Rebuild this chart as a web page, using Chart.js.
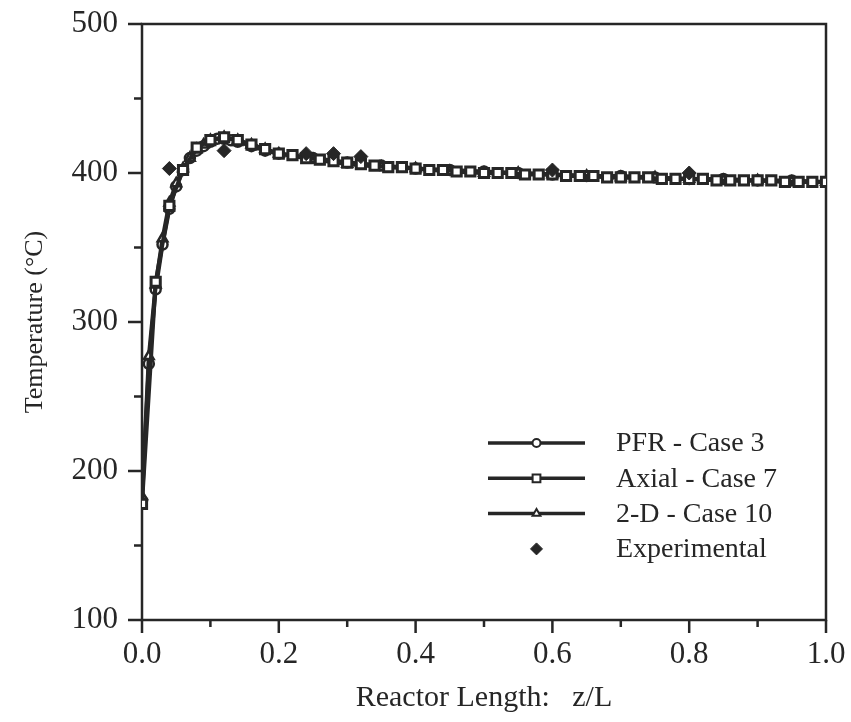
<!DOCTYPE html>
<html><head><meta charset="utf-8">
<script src="https://cdn.jsdelivr.net/npm/chart.js@4.4.1/dist/chart.umd.min.js"></script>
<style>html,body{margin:0;padding:0;background:#fff}</style>
</head><body>
<canvas id="c" width="851" height="722" style="width:851px;height:722px;display:block"></canvas>
<script>
// ---- data ----
const seriesNames = ["PFR - Case 3", "Axial - Case 7", "2-D - Case 10", "Experimental"];

const pfrZ = [0, 0.01, 0.02, 0.03, 0.04, 0.05, 0.06, 0.07, 0.08, 0.09, 0.10, 0.11, 0.12, 0.13, 0.14, 0.16, 0.18, 0.20, 0.25, 0.30, 0.35, 0.40, 0.45, 0.50, 0.55, 0.60, 0.65, 0.70, 0.75, 0.80, 0.85, 0.90, 0.95, 1.00];
const pfrT = [180, 272, 322, 352, 376, 391, 402, 410, 415, 418, 421, 423, 423, 422, 421, 418, 415, 413, 410, 407, 405, 403, 402, 401, 400, 399, 398, 398, 397, 396, 396, 395, 395, 394];

const axialZ = [0, 0.02, 0.04, 0.06, 0.08, 0.10, 0.12, 0.14, 0.16, 0.18, 0.20, 0.22, 0.24, 0.26, 0.28, 0.30, 0.32, 0.34, 0.36, 0.38, 0.40, 0.42, 0.44, 0.46, 0.48, 0.50, 0.52, 0.54, 0.56, 0.58, 0.60, 0.62, 0.64, 0.66, 0.68, 0.70, 0.72, 0.74, 0.76, 0.78, 0.80, 0.82, 0.84, 0.86, 0.88, 0.90, 0.92, 0.94, 0.96, 0.98, 1.00];
const axialT = [178, 327, 378, 402, 417, 422, 424, 422, 419, 416, 413, 412, 410, 409, 408, 407, 406, 405, 404, 404, 403, 402, 402, 401, 401, 400, 400, 400, 399, 399, 399, 398, 398, 398, 397, 397, 397, 397, 396, 396, 396, 396, 395, 395, 395, 395, 395, 394, 394, 394, 394];

const twoDZ = [0, 0.01, 0.02, 0.03, 0.04, 0.05, 0.06, 0.07, 0.08, 0.09, 0.10, 0.12, 0.14, 0.16, 0.18, 0.20, 0.25, 0.30, 0.35, 0.40, 0.45, 0.50, 0.55, 0.60, 0.65, 0.70, 0.75, 0.80, 0.85, 0.90, 0.95, 1.00];
const twoDT = [183, 277, 325, 356, 380, 393, 403, 410, 416, 419, 422, 424, 422, 419, 416, 413, 409, 406, 404, 403, 401, 400, 400, 399, 398, 397, 397, 396, 395, 395, 394, 394];

const expZ = [0.04, 0.12, 0.24, 0.28, 0.32, 0.60, 0.80];
const expT = [403, 415, 413, 413, 411, 402, 400];

const xTickLabels = ["0.0", "0.2", "0.4", "0.6", "0.8", "1.0"];
const yTickLabels = ["100", "200", "300", "400", "500"];

// ---- styling ----
const INK = '#262626';
const FONT = '"Liberation Serif", "Times New Roman", serif';
const pts = (zs, ts) => zs.map((z, i) => ({x: z, y: ts[i]}));

const lineDs = (label, zs, ts, style, r, bw) => ({
  label, data: pts(zs, ts), showLine: true,
  borderColor: INK, borderWidth: 4, tension: 0,
  pointStyle: style, pointRadius: r, pointBorderWidth: bw,
  pointBackgroundColor: '#ffffff', pointBorderColor: INK
});

const datasets = [
  Object.assign({
    label: seriesNames[3], data: pts(expZ, expT), showLine: false,
    pointStyle: 'rectRot', pointRadius: 7, pointBackgroundColor: INK,
    pointBorderColor: INK, pointBorderWidth: 1
  }, {order: 0}),
  Object.assign(lineDs(seriesNames[0], pfrZ, pfrT, 'circle', 5, 2.5), {order: 3}),
  Object.assign(lineDs(seriesNames[1], axialZ, axialT, 'rect', 6.5, 3), {order: 1}),
  Object.assign(lineDs(seriesNames[2], twoDZ, twoDT, 'triangle', 5.5, 2.5), {order: 2})
];

const framePlugin = {
  id: 'frame',
  beforeDatasetsDraw(chart) {
    const {ctx, chartArea: a, scales: {x, y}} = chart;
    ctx.save();
    ctx.strokeStyle = INK; ctx.lineWidth = 2.5;
    ctx.strokeRect(a.left, a.top, a.right - a.left, a.bottom - a.top);
    ctx.beginPath();
    for (let v = 100; v <= 500; v += 50) {
      const py = y.getPixelForValue(v);
      const len = (v % 100 === 0) ? 14 : 8;
      ctx.moveTo(a.left - len, py); ctx.lineTo(a.left, py);
    }
    for (let k = 0; k <= 10; k++) {
      const px = x.getPixelForValue(k / 10);
      const len = (k % 2 === 0) ? 13 : 7;
      ctx.moveTo(px, a.bottom); ctx.lineTo(px, a.bottom + len);
    }
    ctx.stroke();
    ctx.restore();
  }
};

const legendPlugin = {
  id: 'customLegend',
  afterDraw(chart) {
    const {ctx} = chart;
    const rows = [1, 2, 3, 0];
    const x0 = 488, x1 = 585, tx = 616, y0 = 443, dy = 35.3;
    ctx.save();
    rows.forEach((di, i) => {
      const ds = chart.data.datasets[di];
      const yy = y0 + i * dy;
      if (ds.showLine) {
        ctx.strokeStyle = INK; ctx.lineWidth = 3.5;
        ctx.beginPath(); ctx.moveTo(x0, yy); ctx.lineTo(x1, yy); ctx.stroke();
      }
      ctx.fillStyle = ds.pointBackgroundColor; ctx.strokeStyle = ds.pointBorderColor;
      ctx.lineWidth = Math.min(ds.pointBorderWidth, 2);
      Chart.helpers.drawPoint(ctx, {pointStyle: ds.pointStyle, radius: ds.pointRadius - 1, rotation: 0, borderWidth: ctx.lineWidth}, (x0 + x1) / 2, yy);
      ctx.fillStyle = INK;
      ctx.font = '28px ' + FONT;
      ctx.textBaseline = 'middle'; ctx.textAlign = 'left';
      ctx.fillText(ds.label, tx, yy + 1);
    });
    ctx.restore();
  }
};

new Chart(document.getElementById('c'), {
  type: 'scatter',
  data: {datasets},
  options: {
    responsive: false, animation: false, devicePixelRatio: 1,
    layout: {padding: {top: 24, right: 25, left: 0, bottom: 0}},
    plugins: {legend: {display: false}, tooltip: {enabled: false}},
    scales: {
      x: {
        type: 'linear', min: 0, max: 1,
        grid: {display: false}, border: {display: false},
        afterFit(s) { s.height = 102; s.paddingLeft = 0; s.paddingRight = 0; },
        ticks: {
          stepSize: 0.1, autoSkip: false, maxRotation: 0, color: INK, padding: 8,
          font: {family: FONT, size: 31},
          callback(v) { const k = Math.round(v * 10); return k % 2 === 0 ? xTickLabels[k / 2] : ''; }
        },
        title: {display: true, text: 'Reactor Length:   z/L', color: INK, font: {family: FONT, size: 30}, padding: {top: 0, bottom: 6}}
      },
      y: {
        type: 'linear', min: 100, max: 500,
        grid: {display: false}, border: {display: false},
        afterFit(s) { s.width = 142; s.paddingTop = 0; s.paddingBottom = 0; },
        ticks: {
          stepSize: 50, autoSkip: false, color: INK, padding: 16,
          font: {family: FONT, size: 31},
          callback(v) { return v % 100 === 0 ? yTickLabels[(v - 100) / 100] : ''; }
        },
        title: {display: true, text: 'Temperature (°C)', color: INK, font: {family: FONT, size: 26}, padding: {top: 20, bottom: 0}}
      }
    }
  },
  plugins: [framePlugin, legendPlugin]
});
</script>
</body></html>
